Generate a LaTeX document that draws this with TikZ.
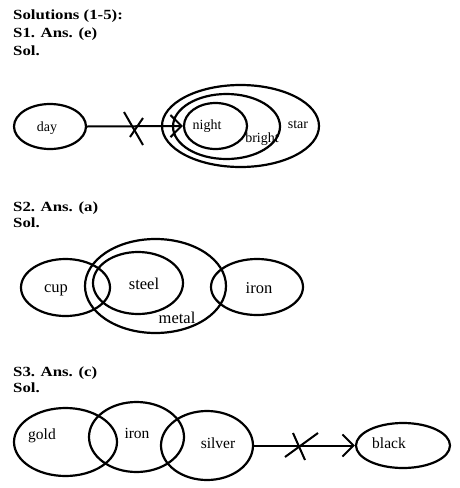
\documentclass[tikz,border=0pt]{standalone}
\usepackage{fontspec}
\setmainfont{Liberation Serif}
\newfontfamily\headfont[FakeStretch=1.2]{Liberation Serif}
\usetikzlibrary{shapes.geometric, arrows.meta}

\begin{document}
\begin{tikzpicture}[x = 1pt, y = -1pt,
                    ring/.style = {draw, ellipse, inner sep = 0pt, line width = 2.2pt},
                    word/.style = {inner sep = 0pt},
                    head/.style = {anchor = base west, inner sep = 0pt, font = \headfont\bfseries\fontsize{14}{14}\selectfont},
                    link/.style = {line width = 2pt, -{Straight Barb[length = 11pt, width = 22pt, line width = 2pt]}},
                    cross/.style = {line width = 2pt}]
                    \useasboundingbox (0, 0) rectangle (460, 488);

                    % S1
                    \node at (13, 19) [head] (title) {Solutions (1-5):};
                    \node at (13, 37) [head] (ans1) {S1. Ans. (e)};
                    \node at (13, 55) [head] (sol1) {Sol.};
                    \node at (50, 126.5) [ring, minimum width = 72pt, minimum height = 45pt] (day) {};
                    \node at (240.5, 126) [ring, minimum width = 157pt, minimum height = 82pt] (star) {};
                    \node at (226.5, 126.5) [ring, minimum width = 107pt, minimum height = 65pt] (bright) {};
                    \node at (215.5, 126) [ring, minimum width = 63pt, minimum height = 46pt] (night) {};
                    \begin{scope}[every node/.append style = {font = \fontsize{14}{14}\selectfont}]
                    \node at (47, 128) [word] (t-day) {day};
                    \node at (207, 126) [word] (t-night) {night};
                    \node at (262, 139) [word] (t-bright) {bright};
                    \node at (298, 125) [word] (t-star) {star};
                    \end{scope}
                    \coordinate (cross1) at (134, 128);

                    \draw [link] (day.east) -- (night.west);
                    \draw [cross] ([shift = {(-10, -16)}] cross1) -- ([shift = {(9, 17)}] cross1);
                    \draw [cross] ([shift = {(9, -10)}] cross1) -- ([shift = {(-4, 9)}] cross1);

                    % S2
                    \node at (13, 211) [head] (ans2) {S2. Ans. (a)};
                    \node at (13, 227) [head] (sol2) {Sol.};
                    \begin{scope}[every node/.append style = {line width = 2.8pt}]
                    \node at (65.5, 287.5) [ring, minimum width = 89pt, minimum height = 57pt] (cup) {};
                    \node at (138, 283) [ring, minimum width = 90pt, minimum height = 62pt] (steel) {};
                    \node at (155.5, 286) [ring, minimum width = 141pt, minimum height = 94pt] (metal) {};
                    \node at (257, 287) [ring, minimum width = 92pt, minimum height = 56pt] (iron) {};
                    \end{scope}
                    \begin{scope}[every node/.append style = {font = \fontsize{16.5}{16.5}\selectfont}]
                    \node at (56, 290) [word] (t-cup) {cup};
                    \node at (144, 284) [word] (t-steel) {steel};
                    \node at (177, 318) [word] (t-metal) {metal};
                    \node at (259, 288) [word] (t-iron) {iron};
                    \end{scope}

                    % S3
                    \node at (13, 376) [head] (ans3) {S3. Ans. (c)};
                    \node at (13, 392) [head] (sol3) {Sol.};
                    \node at (65.5, 442) [ring, minimum width = 103pt, minimum height = 68pt] (gold) {};
                    \node at (136.5, 437) [ring, minimum width = 95pt, minimum height = 70pt] (iron3) {};
                    \node at (207, 445.5) [ring, minimum width = 92pt, minimum height = 69pt] (silver) {};
                    \node at (403, 445.5) [ring, minimum width = 94pt, minimum height = 45pt] (black) {};
                    \begin{scope}[every node/.append style = {font = \fontsize{15.5}{15.5}\selectfont}]
                    \node at (42, 436) [word] (t-gold) {gold};
                    \node at (137, 433) [word] (t-iron3) {iron};
                    \node at (218, 443) [word] (t-silver) {silver};
                    \node at (389, 443) [word] (t-black) {black};
                    \end{scope}
                    \coordinate (cross2) at (301, 446);

                    \draw [link] (silver.east) -- (black.west);
                    \draw [cross] ([shift = {(-8, -13)}] cross2) -- ([shift = {(4, 14)}] cross2);
                    \draw [cross] ([shift = {(17, -13)}] cross2) -- ([shift = {(-16, 11)}] cross2);
                \end{tikzpicture}
\end{document}
